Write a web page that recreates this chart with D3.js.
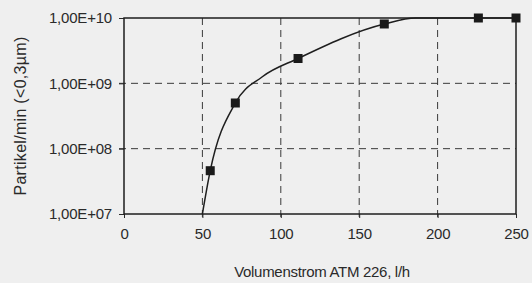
<!DOCTYPE html>
<html>
<head>
<meta charset="utf-8">
<script src="https://cdn.jsdelivr.net/npm/d3@7"></script>
<style>
  body { margin: 0; background: #efefef; }
  svg { display: block; }
  text { font-family: "Liberation Sans", Arial, sans-serif; fill: #2a2a2a; }
</style>
</head>
<body>
<svg id="chart" width="532" height="283"></svg>
<script>
// ----------

// measured points (markers)
const flowValues = [55, 71, 111, 166, 226, 250];
const particleValues = [4.6e7, 5.0e8, 2.4e9, 8.1e9, 1.0e10, 1.0e10];

// trend line, starting on the bottom axis
const curveFlow = [50, 55, 71, 88, 111, 166, 186, 226, 250];
const curveParticles = [1.0e7, 4.6e7, 5.0e8, 1.25e9, 2.4e9, 8.1e9, 1.0e10, 1.0e10, 1.0e10];

const xTicks = [0, 50, 100, 150, 200, 250];
const yTicks = [1e7, 1e8, 1e9, 1e10];
const yTickLabels = ["1,00E+07", "1,00E+08", "1,00E+09", "1,00E+10"];

const X_TITLE = "Volumenstrom ATM 226, l/h";
const Y_TITLE = "Partikel/min (<0,3µm)";

// ----------

const margin = { top: 18, right: 16, bottom: 69, left: 124 };
const width = 532;
const height = 283;

const svg = d3.select("#chart");

const x = d3.scaleLinear()
  .domain([0, 250])
  .range([margin.left, width - margin.right]);

const y = d3.scaleLog()
  .domain([1e7, 1e10])
  .range([height - margin.bottom, margin.top]);

// background
svg.append("rect")
  .attr("width", width)
  .attr("height", height)
  .attr("fill", "#efefef");

// dashed grid
svg.append("g")
  .selectAll("line")
  .data(xTicks.filter(function (d) { return d > 0 && d < 250; }))
  .join("line")
  .attr("x1", function (d) { return x(d); })
  .attr("x2", function (d) { return x(d); })
  .attr("y1", y(1e10))
  .attr("y2", y(1e7) + 4)
  .attr("stroke", "#3a3a3a")
  .attr("stroke-width", 1)
  .attr("stroke-dasharray", "7,5");

svg.append("g")
  .selectAll("line")
  .data([1e8, 1e9])
  .join("line")
  .attr("x1", x(0) - 5)
  .attr("x2", x(250))
  .attr("y1", function (d) { return y(d); })
  .attr("y2", function (d) { return y(d); })
  .attr("stroke", "#3a3a3a")
  .attr("stroke-width", 1)
  .attr("stroke-dasharray", "7,5");

// axes (ticks + labels)
const xAxis = d3.axisBottom(x)
  .tickValues(xTicks)
  .tickSize(4)
  .tickPadding(10)
  .tickFormat(d3.format("d"));

const yAxis = d3.axisLeft(y)
  .tickValues(yTicks)
  .tickSize(5)
  .tickPadding(7)
  .tickFormat(function (d, i) { return yTickLabels[i]; });

const gx = svg.append("g")
  .attr("transform", "translate(0," + y(1e7) + ")")
  .call(xAxis);

const gy = svg.append("g")
  .attr("transform", "translate(" + x(0) + ",0)")
  .call(yAxis);

[gx, gy].forEach(function (g) {
  g.select(".domain").remove();
  g.selectAll(".tick line").attr("stroke", "#2a2a2a").attr("stroke-width", 1);
  g.selectAll(".tick text")
    .attr("fill", "#2a2a2a")
    .style("font-size", "15px")
    .style("font-family", "'Liberation Sans', Arial, sans-serif")
    .style("letter-spacing", "-0.2px");
});

// plot frame
svg.append("rect")
  .attr("x", x(0))
  .attr("y", y(1e10))
  .attr("width", x(250) - x(0))
  .attr("height", y(1e7) - y(1e10))
  .attr("fill", "none")
  .attr("stroke", "#1e1e1e")
  .attr("stroke-width", 1.5);

// trend line
const line = d3.line()
  .x(function (d) { return x(d[0]); })
  .y(function (d) { return y(d[1]); })
  .curve(d3.curveMonotoneX);

svg.append("path")
  .datum(d3.zip(curveFlow, curveParticles))
  .attr("d", line)
  .attr("fill", "none")
  .attr("stroke", "#1e1e1e")
  .attr("stroke-width", 1.5);

// markers
svg.append("g")
  .selectAll("rect")
  .data(d3.zip(flowValues, particleValues))
  .join("rect")
  .attr("x", function (d) { return x(d[0]) - 4.5; })
  .attr("y", function (d) { return y(d[1]) - 4.5; })
  .attr("width", 9)
  .attr("height", 9)
  .attr("fill", "#1a1a1a");

// axis titles
svg.append("text")
  .attr("x", (x(0) + x(250)) / 2 + 2)
  .attr("y", 277)
  .attr("text-anchor", "middle")
  .style("font-size", "15px")
  .style("letter-spacing", "-0.3px")
  .text(X_TITLE);

svg.append("text")
  .attr("transform", "translate(26," + 116 + ") rotate(-90)")
  .attr("text-anchor", "middle")
  .style("font-size", "16px")
  .style("letter-spacing", "0.3px")
  .text(Y_TITLE);
</script>
</body>
</html>
